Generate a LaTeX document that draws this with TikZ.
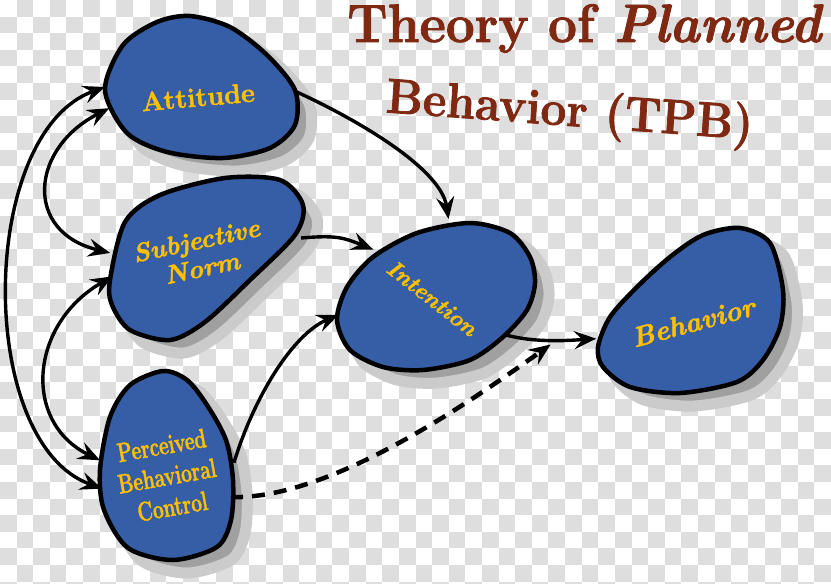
\documentclass[tikz,border=0pt]{standalone}
\usepackage{fontspec}
\setmainfont{Latin Modern Roman}[BoldFeatures={FakeBold=1.6}, BoldItalicFeatures={FakeBold=1.6}]
\usetikzlibrary{shapes.geometric,arrows.meta,positioning}
\definecolor{blobblue}{RGB}{53,94,166}
\definecolor{labelgold}{RGB}{255,192,0}
\definecolor{titlered}{RGB}{127,40,18}
\definecolor{checkgray}{RGB}{222,222,222}
\definecolor{shadowgray}{RGB}{160,160,160}
\tikzset{
  blob/.style={fill=blobblue, draw=black, line width=4.5pt, line join=round},
  blobshade/.style={fill=shadowgray, draw=shadowgray!55!white, line width=11pt, shift={(14,13)}},
  hub/.style={ellipse, inner sep=0pt, outer sep=0pt},
  lbl/.style={text=labelgold, align=center},
  link/.style={line width=3.4pt, -{Stealth[length=22pt,width=18pt,inset=8pt]}},
  both/.style={line width=3.4pt, {Stealth[length=22pt,width=18pt,inset=8pt]}-{Stealth[length=22pt,width=18pt,inset=8pt]}},
  dashlink/.style={link, line width=4.5pt, dash pattern=on 13pt off 9pt}
}
\newcommand{\attblob}{plot[smooth cycle] coordinates {(105,90) (123,45) (157,22) (190,16) (230,27) (267,55) (295,90) (295,125) (270,148) (223,158) (167,152) (127,133)}}
\newcommand{\snblob}{plot[smooth cycle] coordinates {(110,280) (125,222) (160,195) (225,178) (280,180) (303,205) (295,235) (250,280) (205,322) (170,340) (130,330) (112,305)}}
\newcommand{\pbcblob}{plot[smooth cycle] coordinates {(163,371) (187,380) (207,405) (226,440) (233,480) (231,520) (217,547) (173,560) (128,548) (104,510) (100,470) (110,417) (130,385)}}
\newcommand{\intblob}{plot[smooth cycle] coordinates {(470,223) (510,233) (530,257) (535,283) (527,310) (503,337) (470,360) (423,370) (383,367) (350,350) (337,320) (347,287) (373,257) (417,233)}}
\newcommand{\behblob}{plot[smooth cycle] coordinates {(740,228) (770,243) (783,290) (780,327) (763,360) (737,382) (680,393) (630,387) (603,367) (598,347) (610,317) (637,287) (670,257) (703,235)}}

\begin{document}
\begin{tikzpicture}[x=1pt,y=-1pt]
\useasboundingbox (0,0) rectangle (831,584);
\fill[white] (0,0) rectangle (831,584);
\foreach \i in {0,...,49} {
\foreach \j in {0,...,35} {
\ifodd\numexpr\i+\j\relax \fill[checkgray] (\i*16.62,\j*16.62) rectangle ++(16.62,16.62); \fi
}
}

\node[anchor=base west, text=titlered, font=\fontsize{54}{58}\selectfont\bfseries, xscale=.95] (title1) at (344,42) {Theory of \textit{Planned}};
\node[anchor=base west, text=titlered, font=\fontsize{49}{52}\selectfont\bfseries, xscale=.94, rotate=-4] (title2) at (382,112) {Behavior (TPB)};

\node[hub, minimum width=192pt, minimum height=142pt] (att) at (201,87) {};
\node[hub, minimum width=194pt, minimum height=164pt] (sn) at (207,258) {};
\node[hub, minimum width=134pt, minimum height=190pt] (pbc) at (167,465) {};
\node[hub, minimum width=200pt, minimum height=145pt, rotate=23] (int) at (435,296) {};
\node[hub, minimum width=210pt, minimum height=150pt, rotate=40] (beh) at (690,310) {};

\foreach \b in {\attblob,\snblob,\pbcblob,\intblob,\behblob} {
\fill[blobshade] \b;
}

\draw[both] (att.180) .. controls +(-127,46) and +(-127,-46) .. (pbc.200);
\draw[both] (att.193) .. controls +(-79,40) and +(-87,-21) .. (sn.177);
\draw[both] (sn.191) .. controls +(-83,48) and +(-78,-38) .. (pbc.176);

\draw[link] (att.-3) .. controls +(55,25) and +(-8,-52) .. (int.57);
\draw[link] (sn.12) .. controls +(35,-3) and +(-30,-12) .. (int.120);
\draw[link] (pbc.2) .. controls +(19,-63) and +(-47,20) .. (int.168);
\draw[link] (int.-52) .. controls +(30,8) and +(-30,2) .. (beh.157) coordinate[pos=.5] (mid);
\coordinate (dashend) at ([yshift=-4pt]mid);
\draw[dashlink] (pbc.-27) .. controls +(100,3) and +(-80,57) .. (dashend);

\foreach \b in {\attblob,\snblob,\pbcblob,\intblob,\behblob} {
\draw[blob] \b;
}

\node[lbl, font=\fontsize{27}{30}\selectfont\bfseries, rotate=5] (att-l) at (198,97) {Attitude};
\node[lbl, font=\fontsize{26}{28}\selectfont\bfseries\itshape, rotate=12] (sn-l) at (199,254) {Subjective\\Norm};
\node[lbl, font=\fontsize{27}{31}\selectfont\bfseries, rotate=10, xscale=.7] (pbc-l) at (167,476) {Perceived\\Behavioral\\Control};
\node[lbl, font=\fontsize{23}{25}\selectfont\bfseries\itshape, rotate=-38] (int-l) at (432,298) {Intention};
\node[lbl, font=\fontsize{28}{30}\selectfont\bfseries\itshape, rotate=15] (beh-l) at (693,322) {Behavior};
\end{tikzpicture}
\end{document}
